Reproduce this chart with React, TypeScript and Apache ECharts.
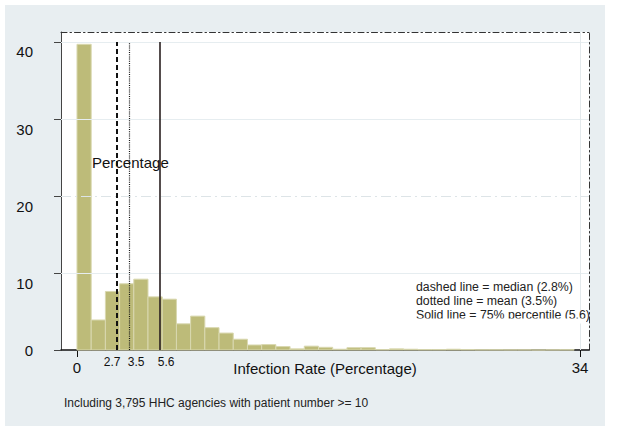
import React, { useEffect, useRef } from "react";
import * as echarts from "echarts";

const FONT = "Liberation Sans, Arial, Helvetica, sans-serif";

// Histogram: bin width (percentage points) and percent of agencies per bin
const binWidth = 0.96;
const percents = [
  39.7, 3.9, 7.6, 8.6, 9.2, 6.9, 6.6, 3.4, 4.4, 2.9, 2.2, 1.4, 0.65, 0.7, 0.45,
  0.15, 0.5, 0.35, 0.1, 0.3, 0.3, 0.05, 0.15, 0.1, 0.05, 0.05, 0.1, 0.05, 0.03,
  0.03, 0.02, 0.02, 0, 0.02, 0.03,
];

const yTicks = [0, 10, 20, 30, 40];
const yLabelPos = [0, 8.7, 18.7, 28.7, 38.8];
const xTicks = [0, 34];
const statValues = [2.7, 3.5, 5.6];
const statLabels = ["2.7", "3.5", "5.6"];
const statLabelPos = [2.37, 4.0, 6.02];
const gridValues = [10, 20, 30, 40];
const legendLines = [
  "dashed line = median (2.8%)",
  "dotted line = mean (3.5%)",
  "Solid line = 75% percentile (5.6)",
];
const footnote = "Including 3,795 HHC agencies with patient number >= 10";

const X_MIN = -1.08;
const X_MAX = 34.6;
const Y_MAX = 41.3;

function lookup(pos: number[], labels: string[], v: number) {
  for (let i = 0; i < pos.length; i++) {
    if (Math.abs(pos[i] - v) < 1e-6) return labels[i];
  }
  return "";
}

export default function App() {
  const ref = useRef<HTMLDivElement>(null);

  useEffect(() => {
    document.body.style.margin = "0";
    if (!ref.current) return;
    const chart = echarts.init(ref.current, undefined, { renderer: "svg" });

    const bins = percents.map((v, i) => [i * binWidth, (i + 1) * binWidth, v]);
    const dashDot = [6, 3, 1.5, 3];

    const option: any = {
      animation: false,
      backgroundColor: "#ffffff",
      textStyle: { fontFamily: FONT },
      grid: {
        left: 61,
        top: 32,
        right: 28,
        bottom: 82,
        show: true,
        backgroundColor: "#ffffff",
        borderWidth: 0,
        containLabel: false,
      },
      xAxis: [
        {
          type: "value",
          min: X_MIN,
          max: X_MAX,
          position: "bottom",
          axisLine: { show: true, onZero: false, lineStyle: { color: "#111", width: 1.5 } },
          axisTick: { show: true, customValues: xTicks, length: 7, lineStyle: { color: "#111" } },
          axisLabel: { customValues: xTicks, fontSize: 15, margin: 10, color: "#111", fontFamily: FONT },
          splitLine: { show: false },
          name: "Infection Rate (Percentage)",
          nameLocation: "middle",
          nameGap: 11,
          nameMoveOverlap: false,
          nameTextStyle: { fontSize: 15, color: "#111", fontFamily: FONT, verticalAlign: "top" },
        },
        {
          type: "value",
          min: X_MIN,
          max: X_MAX,
          position: "bottom",
          axisLine: { show: false },
          axisTick: { show: false },
          axisLabel: {
            customValues: statLabelPos,
            formatter: (v: number) => lookup(statLabelPos, statLabels, v),
            fontSize: 12,
            margin: 6,
            color: "#111",
            fontFamily: FONT,
          },
          splitLine: { show: false },
        },
        {
          type: "value",
          min: X_MIN,
          max: X_MAX,
          position: "top",
          axisLine: { show: true, onZero: false, lineStyle: { color: "#333", width: 1, type: dashDot } },
          axisTick: { show: false },
          axisLabel: { show: false },
          splitLine: { show: false },
        },
      ],
      yAxis: [
        {
          type: "value",
          min: 0,
          max: Y_MAX,
          position: "left",
          axisLine: { show: true, onZero: false, lineStyle: { color: "#444", width: 1 } },
          axisTick: { show: true, customValues: yTicks, length: 7, lineStyle: { color: "#444" } },
          axisLabel: {
            customValues: yLabelPos,
            formatter: (v: number) => lookup(yLabelPos, yTicks.map(String), v),
            fontSize: 15,
            margin: 28,
            color: "#111",
            fontFamily: FONT,
          },
          splitLine: { show: false },
        },
        {
          type: "value",
          min: 0,
          max: Y_MAX,
          position: "right",
          axisLine: { show: true, onZero: false, lineStyle: { color: "#333", width: 1, type: dashDot } },
          axisTick: { show: false },
          axisLabel: { show: false },
          splitLine: { show: false },
        },
      ],
      series: [
        {
          type: "line",
          data: [],
          z: 1,
          silent: true,
          markLine: {
            silent: true,
            symbol: ["none", "none"],
            label: { show: false },
            animation: false,
            data: [
              ...gridValues.map((v) => ({
                yAxis: v,
                lineStyle: v === 20
                  ? { color: "#dde4e7", width: 1, type: [10, 4, 2, 4] }
                  : { color: "#e6edf0", width: 1, type: "solid" },
              })),
              { xAxis: 34, lineStyle: { color: "#e3e9ec", width: 1, type: "solid" } },
            ],
          },
        },
        {
          type: "custom",
          z: 2,
          silent: true,
          data: bins,
          encode: { x: [0, 1], y: 2 },
          renderItem: (params: any, api: any) => {
            const p0 = api.coord([api.value(0), api.value(2)]);
            const p1 = api.coord([api.value(1), 0]);
            return {
              type: "rect",
              shape: { x: p0[0], y: p0[1], width: p1[0] - p0[0], height: p1[1] - p0[1] },
              style: { fill: "#bdbb79", stroke: "#d9d8b0", lineWidth: 1 },
            };
          },
        },
        {
          type: "line",
          data: [],
          z: 3,
          silent: true,
          markLine: {
            silent: true,
            symbol: ["none", "none"],
            label: { show: false },
            animation: false,
            data: [
              [
                { coord: [statValues[0], 0], lineStyle: { color: "#111", width: 2, type: [5, 3] } },
                { coord: [statValues[0], 40] },
              ],
              [
                { coord: [statValues[1], 0], lineStyle: { color: "#111", width: 1.2, type: [1, 1.2] } },
                { coord: [statValues[1], 40] },
              ],
              [
                { coord: [statValues[2], 0], lineStyle: { color: "#2a2020", width: 1.6, type: "solid" } },
                { coord: [statValues[2], 40] },
              ],
            ],
          },
        },
      ],
      graphic: [
        {
          type: "rect",
          z: -10,
          silent: true,
          shape: { x: 5, y: 5, width: 600, height: 421 },
          style: { fill: "#e8eef1" },
        },
        {
          type: "text",
          z: 100,
          x: 92,
          y: 162,
          style: { text: "Percentage", font: `15px ${FONT}`, fill: "#111", verticalAlign: "middle" },
        },
        ...legendLines.map((t, i) => ({
          type: "text",
          z: 100,
          x: 416,
          y: 287 + i * 14,
          style: { text: t, font: `12.3px ${FONT}`, fill: "#222", verticalAlign: "middle" },
        })),
        {
          type: "rect",
          z: 101,
          silent: true,
          shape: { x: 414, y: 318.5, width: 172, height: 5 },
          style: { fill: "#ffffff" },
        },
        {
          type: "text",
          z: 100,
          x: 64,
          y: 403,
          style: { text: footnote, font: `12px ${FONT}`, fill: "#222", verticalAlign: "middle" },
        },
      ],
    };

    chart.setOption(option);
    return () => chart.dispose();
  }, []);

  return <div ref={ref} style={{ width: 617, height: 432 }} />;
}
